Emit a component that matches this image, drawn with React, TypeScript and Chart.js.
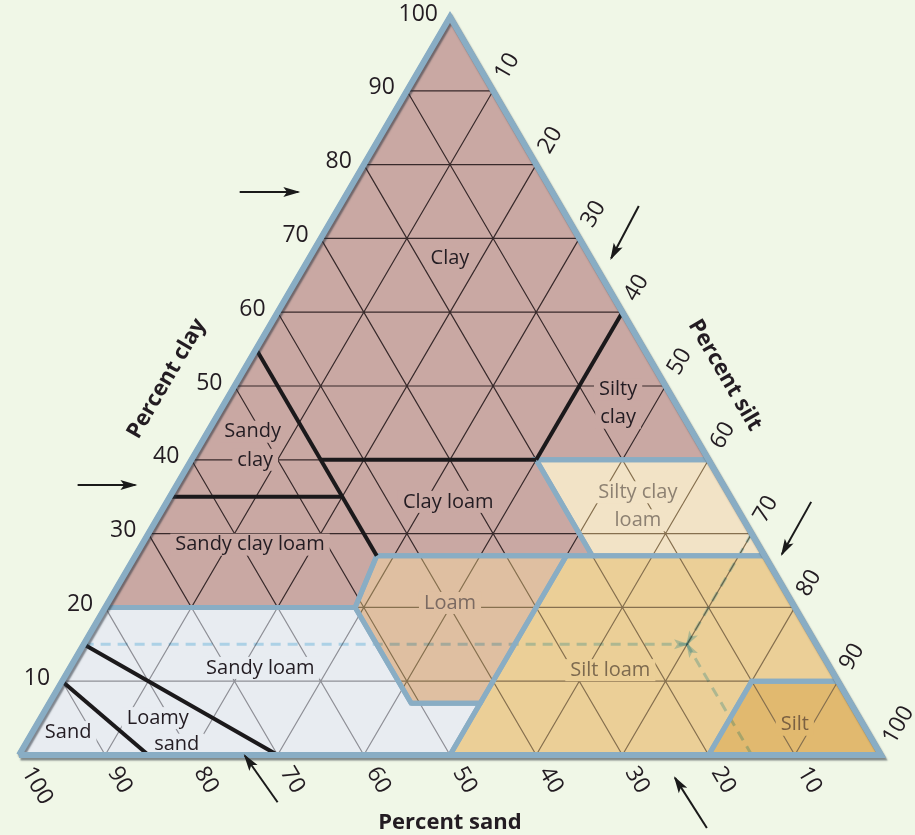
import React, { useEffect, useRef } from 'react';
import { Chart, registerables } from 'chart.js';

Chart.register(...registerables);

const FONT = "'Open Sans', 'Noto Sans', 'DejaVu Sans', sans-serif";
const BG = '#f0f7e7';
const BORDER_BLUE = '#89adc4';
const INK = '#231c22';

const PINK = '#c9a8a3';
const SANDY = '#e8ecf1';
const SCL = '#f2e3c6';
const LOAM = '#dfbfa1';
const SILT_LOAM = '#ebcf97';
const SILT = '#e1b96f';

// ---- axis ticks ----
const gridTicks = [10, 20, 30, 40, 50, 60, 70, 80, 90];
const tickLabels = [10, 20, 30, 40, 50, 60, 70, 80, 90, 100];

// ---- outer triangle (percent sand, percent clay) ----
const triangleSand = [100, 0, 0, 100];
const triangleClay = [0, 0, 100, 0];

// ---- texture class regions (percent sand, percent clay) ----
const clayGroupSand = [80, 51, 45, 20, 20, 0, 0, 80];
const clayGroupClay = [20, 20, 27, 27, 40, 40, 100, 20];
const sandyGroupSand = [100, 50, 43, 51, 51, 80, 100];
const sandyGroupClay = [0, 0, 7, 7, 20, 20, 0];
const siltyClayLoamSand = [20, 0, 0, 20, 20];
const siltyClayLoamClay = [27, 27, 40, 40, 27];
const loamSand = [51, 43, 23, 45, 51, 51];
const loamClay = [7, 7, 27, 27, 20, 7];
const siltLoamSand = [50, 20, 10, 0, 0, 23, 43, 50];
const siltLoamClay = [0, 0, 10, 10, 27, 27, 7, 0];
const siltSand = [20, 0, 0, 10, 20];
const siltClay = [0, 0, 10, 10, 0];

// ---- internal class boundaries (black lines) ----
const dividerSand = [[45, 45], [65, 45], [45, 20], [20, 0], [90, 85], [85, 70]];
const dividerClay = [[55, 27], [35, 35], [40, 40], [40, 60], [10, 0], [15, 0]];

// ---- example sample: 15% sand, 15% clay, 70% silt ----
const sampleSand = 15;
const sampleClay = 15;

// ---- reading-direction pointers (chart units) ----
const pointerFromX = [25.6, 6.8, 71.9, 91.9, 30.0, 79.8];
const pointerFromY = [76.3, 36.6, 74.4, 34.3, -6.4, -9.9];
const pointerToX = [32.4, 13.5, 68.7, 88.5, 26.2, 76.1];
const pointerToY = [76.3, 36.6, 67.3, 27.2, -0.1, -3.1];

// ---- class labels ----
const classNames = ['Clay', 'Silty', 'clay', 'Sandy', 'clay', 'Clay loam', 'Sandy clay loam', 'Silty clay', 'loam', 'Loam', 'Sandy loam', 'Loamy', 'sand', 'Sand', 'Silt loam', 'Silt'];
const classX = [50.0, 69.5, 69.5, 27.1, 27.4, 49.8, 26.8, 71.8, 71.8, 50.0, 28.0, 16.1, 18.3, 5.7, 68.6, 90.0];
const classY = [67.3, 49.5, 45.7, 43.8, 40.0, 34.3, 28.5, 35.6, 31.8, 20.6, 11.8, 5.0, 1.4, 3.1, 11.5, 4.1];
const classColor = [INK, INK, INK, INK, INK, INK, INK, '#8d8172', '#8d8172', '#7b6a62', INK, INK, INK, INK, '#7d6a4f', '#7b6142'];
const classBg = [PINK, PINK, PINK, PINK, PINK, PINK, PINK, SCL, SCL, LOAM, SANDY, SANDY, SANDY, SANDY, SILT_LOAM, SILT];

const GAP = { x: NaN, y: null as any };
const pt = (sand: number, clay: number) => ({ x: 100 - sand - clay / 2, y: clay });
const pts = (sand: number[], clay: number[]) => sand.map((s, i) => pt(s, clay[i]));

function gridData() {
  const d: any[] = [];
  for (const v of gridTicks) {
    d.push(pt(100 - v, v), pt(0, v), GAP);
    d.push(pt(v, 0), pt(v, 100 - v), GAP);
    d.push(pt(100 - v, 0), pt(0, 100 - v), GAP);
  }
  return d;
}

const base = { clip: false, spanGaps: false, pointRadius: 0, tension: 0, fill: false };

function fillDs(sand: number[], clay: number[], color: string) {
  return { ...base, data: pts(sand, clay), fill: 'shape', backgroundColor: color, borderColor: 'rgba(0,0,0,0)', borderWidth: 0, order: 10 };
}
function outlineDs(sand: number[], clay: number[]) {
  return { ...base, data: pts(sand, clay), borderColor: BORDER_BLUE, borderWidth: 5, borderJoinStyle: 'miter', order: 4 };
}
function gridDs(color: string, polys: number[][][], order: number, labelsAfter = false) {
  return { ...base, data: gridData(), borderColor: color, borderWidth: 1.2, order, clipPolys: polys, labelsAfter };
}

function polyPath(chart: any, ctx: CanvasRenderingContext2D, sand: number[], clay: number[]) {
  const xs = chart.scales.x, ys = chart.scales.y;
  sand.forEach((s, i) => {
    const p = pt(s, clay[i]);
    const X = xs.getPixelForValue(p.x), Y = ys.getPixelForValue(p.y);
    if (i === 0) ctx.moveTo(X, Y); else ctx.lineTo(X, Y);
  });
  ctx.closePath();
}

function drawClassLabels(chart: any) {
  const ctx = chart.ctx as CanvasRenderingContext2D;
  const xs = chart.scales.x, ys = chart.scales.y;
  ctx.save();
  ctx.font = `20px ${FONT}`;
  ctx.textAlign = 'center';
  ctx.textBaseline = 'middle';
  classNames.forEach((t, i) => {
    const X = xs.getPixelForValue(classX[i]);
    const Y = ys.getPixelForValue(classY[i]);
    const w = ctx.measureText(t).width;
    ctx.fillStyle = classBg[i];
    ctx.fillRect(X - w / 2 - 5, Y - 11, w + 10, 22);
    ctx.fillStyle = classColor[i];
    ctx.fillText(t, X, Y);
  });
  ctx.restore();
}

const texturePlugin = {
  id: 'texture',
  beforeDraw(chart: any) {
    const ctx = chart.ctx;
    ctx.save();
    ctx.fillStyle = BG;
    ctx.fillRect(0, 0, chart.width, chart.height);
    ctx.restore();
  },
  beforeDatasetDraw(chart: any, args: any) {
    const ds = chart.data.datasets[args.index];
    const ctx = chart.ctx as CanvasRenderingContext2D;
    if (ds.clipPolys || ds.blend || ds.shadow) {
      ctx.save();
      ds._saved = true;
      if (ds.clipPolys) {
        ctx.beginPath();
        ds.clipPolys.forEach((p: number[][]) => polyPath(chart, ctx, p[0], p[1]));
        ctx.clip();
      }
      if (ds.blend) ctx.globalCompositeOperation = ds.blend;
      if (ds.shadow) {
        ctx.shadowColor = 'rgba(40,50,60,0.55)';
        ctx.shadowOffsetX = 1.5;
        ctx.shadowOffsetY = 2.5;
        ctx.shadowBlur = 1.5;
      }
    }
  },
  afterDatasetDraw(chart: any, args: any) {
    const ds = chart.data.datasets[args.index];
    const ctx = chart.ctx as CanvasRenderingContext2D;
    if (ds.arrow) {
      const el = args.meta.data;
      const a = el[el.length - 2], b = el[el.length - 1];
      const ang = Math.atan2(b.y - a.y, b.x - a.x);
      ctx.save();
      if (ds.blend) ctx.globalCompositeOperation = ds.blend;
      ctx.fillStyle = ds.borderColor;
      ctx.translate(b.x, b.y);
      ctx.rotate(ang);
      const L = ds.arrow[0], W = ds.arrow[1];
      ctx.beginPath();
      ctx.moveTo(2, 0);
      ctx.lineTo(-L, W / 2);
      ctx.lineTo(-L * 0.75, 0);
      ctx.lineTo(-L, -W / 2);
      ctx.closePath();
      ctx.fill();
      ctx.restore();
    }
    if (ds._saved) {
      ctx.restore();
      ds._saved = false;
    }
    if (ds.labelsAfter) drawClassLabels(chart);
  },
  afterDatasetsDraw(chart: any) {
    const ctx = chart.ctx as CanvasRenderingContext2D;
    const xs = chart.scales.x, ys = chart.scales.y;
    const P = (sand: number, clay: number) => {
      const p = pt(sand, clay);
      return [xs.getPixelForValue(p.x), ys.getPixelForValue(p.y)];
    };
    ctx.save();
    ctx.fillStyle = INK;
    ctx.font = `23px ${FONT}`;
    ctx.textBaseline = 'middle';

    // clay ticks on the left edge
    ctx.textAlign = 'right';
    tickLabels.forEach((c) => {
      const [X, Y] = P(100 - c, c);
      ctx.fillText(String(c), X - 12, Y - 3);
    });

    // silt ticks on the right edge (parallel to silt lines)
    const s0 = P(50, 0), s1 = P(0, 50);
    let dx = s1[0] - s0[0], dy = s1[1] - s0[1];
    let len = Math.hypot(dx, dy);
    const siltDir = [dx / len, dy / len];
    const siltAng = Math.atan2(siltDir[1], siltDir[0]);
    ctx.textAlign = 'left';
    tickLabels.forEach((s) => {
      const [X, Y] = P(0, 100 - s);
      ctx.save();
      ctx.translate(X + siltDir[0] * 15, Y + siltDir[1] * 15);
      ctx.rotate(siltAng);
      ctx.fillText(String(s), 0, 0);
      ctx.restore();
    });

    // sand ticks below the base (parallel to sand lines)
    const a0 = P(50, 50), a1 = P(50, 0);
    dx = a1[0] - a0[0]; dy = a1[1] - a0[1];
    len = Math.hypot(dx, dy);
    const sandDir = [dx / len, dy / len];
    const sandAng = Math.atan2(sandDir[1], sandDir[0]);
    tickLabels.forEach((s) => {
      const [X, Y] = P(s, 0);
      ctx.save();
      ctx.translate(X + sandDir[0] * 16, Y + sandDir[1] * 16);
      ctx.rotate(sandAng);
      ctx.fillText(String(s), 0, 0);
      ctx.restore();
    });

    // axis titles
    ctx.font = `bold 22px ${FONT}`;
    ctx.textAlign = 'center';
    const lc = P(49, 51);
    ctx.save();
    ctx.translate(lc[0] - 72, lc[1]);
    ctx.rotate(siltAng);
    ctx.fillText('Percent clay', 0, 0);
    ctx.restore();
    const rc = P(0, 52);
    ctx.save();
    ctx.translate(rc[0] + 68, rc[1] + 4);
    ctx.rotate(-siltAng);
    ctx.fillText('Percent silt', 0, 0);
    ctx.restore();
    const bc = P(50, 0);
    ctx.fillText('Percent sand', bc[0], bc[1] + 68);
    ctx.restore();
  },
};

function buildConfig(): any {
  const sandyPoly = [sandyGroupSand, sandyGroupClay];
  const pinkPoly = [clayGroupSand, clayGroupClay];
  const siltPolys = [[siltyClayLoamSand, siltyClayLoamClay], [loamSand, loamClay], [siltLoamSand, siltLoamClay], [siltSand, siltClay]];

  const samplePt = pt(sampleSand, sampleClay);
  const siltEdgeClay = 100 - (100 - sampleSand - sampleClay);
  const guide = (from: any) => ({
    ...base, data: [from, samplePt], borderColor: '#bde2f4', borderWidth: 3, borderDash: [10, 7],
    blend: 'multiply', arrow: [13, 10], order: 6,
  });

  const datasets: any[] = [
    fillDs(clayGroupSand, clayGroupClay, PINK),
    fillDs(sandyGroupSand, sandyGroupClay, SANDY),
    fillDs(siltyClayLoamSand, siltyClayLoamClay, SCL),
    fillDs(loamSand, loamClay, LOAM),
    fillDs(siltLoamSand, siltLoamClay, SILT_LOAM),
    fillDs(siltSand, siltClay, SILT),
    gridDs('rgba(40,28,30,0.9)', [pinkPoly], 9),
    gridDs('#8f9097', [sandyPoly], 8.5),
    gridDs('#86704f', siltPolys, 8, true),
    guide(pt(100 - sampleClay, sampleClay)),
    guide(pt(sampleSand, 0)),
    guide(pt(0, siltEdgeClay)),
    outlineDs(clayGroupSand, clayGroupClay),
    outlineDs(sandyGroupSand, sandyGroupClay),
    outlineDs(siltyClayLoamSand, siltyClayLoamClay),
    outlineDs(loamSand, loamClay),
    outlineDs(siltLoamSand, siltLoamClay),
    outlineDs(siltSand, siltClay),
  ];
  dividerSand.forEach((s, i) => {
    datasets.push({ ...base, data: pts(s, dividerClay[i]), borderColor: '#1b191b', borderWidth: 4, order: 2 });
  });
  datasets.push({ ...base, data: pts(triangleSand, triangleClay), borderColor: BORDER_BLUE, borderWidth: 6, borderJoinStyle: 'miter', order: 1, shadow: true });
  pointerFromX.forEach((x, i) => {
    datasets.push({
      ...base,
      data: [{ x, y: pointerFromY[i] }, { x: pointerToX[i], y: pointerToY[i] }],
      borderColor: '#1a1a1a', borderWidth: 2, arrow: [15, 10], order: 0,
    });
  });

  return {
    type: 'line',
    data: { datasets },
    options: {
      animation: false,
      responsive: false,
      events: [],
      layout: { padding: { left: 19, right: 34, top: 17, bottom: 80 } },
      scales: {
        x: { type: 'linear', min: 0, max: 100, display: false },
        y: { type: 'linear', min: 0, max: 100, display: false },
      },
      plugins: { legend: { display: false }, tooltip: { enabled: false } },
      elements: { point: { radius: 0 }, line: { borderCapStyle: 'butt' } },
    },
    plugins: [texturePlugin],
  };
}

export default function App() {
  const ref = useRef<HTMLCanvasElement>(null);
  useEffect(() => {
    document.body.style.margin = '0';
    document.body.style.background = BG;
    const chart = new Chart(ref.current as HTMLCanvasElement, buildConfig());
    return () => chart.destroy();
  }, []);
  return (
    <div style={{ width: 915, height: 835 }}>
      <canvas ref={ref} width={915} height={835} style={{ display: 'block', width: 915, height: 835 }} />
    </div>
  );
}
